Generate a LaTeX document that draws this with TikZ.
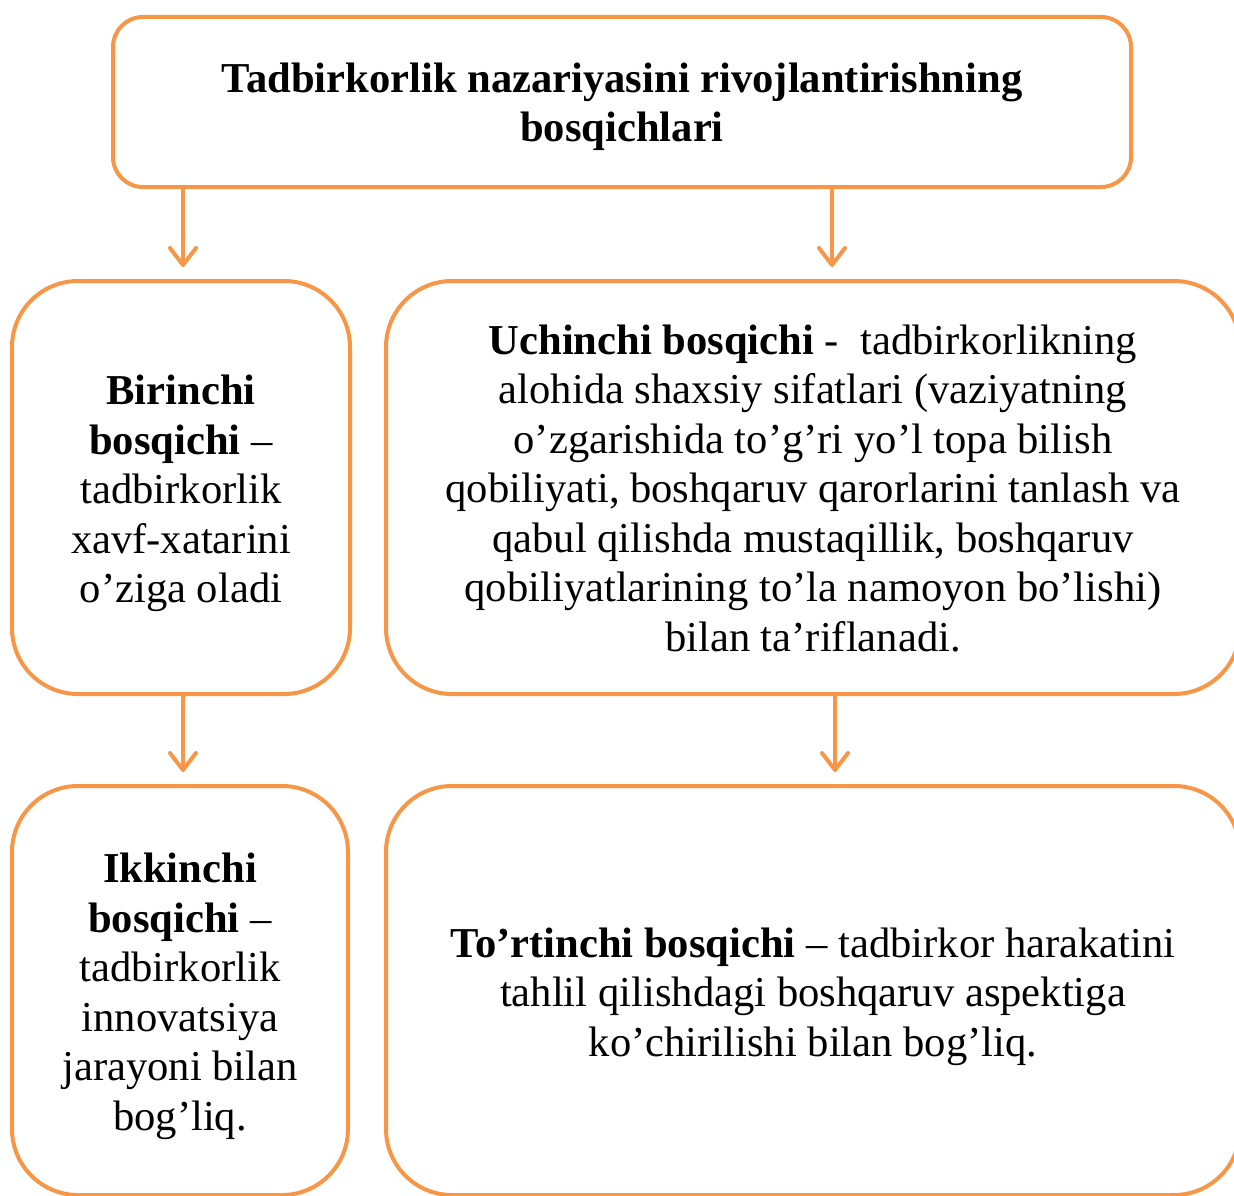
\documentclass[tikz,border=0pt]{standalone}
\usepackage{fontspec}
\setmainfont{Liberation Serif}
\usetikzlibrary{arrows.meta}
\definecolor{stageorange}{HTML}{F79646}
\begin{document}
\begin{tikzpicture}[x=1pt,y=-1pt,
  stagebox/.style={draw=stageorange, line width=4pt, rounded corners=#1,
    inner sep=0pt},
  stagebox/.default=66pt,
  stagetext/.style={inner sep=0pt, align=center, font=\fontsize{42.6}{49.5}\selectfont},
  flow/.style={draw=stageorange, line width=4pt, line cap=round,
    -{Straight Barb[length=17pt,width=26pt,line cap=round,line join=round]},
    shorten >=12pt}
]
% page frame; the wide boxes run past the right and bottom edges
\clip (0,0) rectangle (1234,1196);

% frames
\node[stagebox=30pt, minimum width=1018pt, minimum height=170pt] (top) at (622,102) {};
\node[stagebox, minimum width=338pt, minimum height=413pt] (s1) at (181,487.5) {};
\node[stagebox, minimum width=854pt, minimum height=413pt] (s3) at (813,487.5) {};
\node[stagebox, minimum width=336pt, minimum height=409pt] (s2) at (180,990.5) {};
\node[stagebox, minimum width=854pt, minimum height=409pt] (s4) at (813,990.5) {};

% texts
\node[stagetext, font=\fontsize{42.6}{49.5}\selectfont\bfseries] (toptext) at ([yshift=-5pt]top.center)
  {Tadbirkorlik nazariyasini rivojlantirishning\\bosqichlari};
\node[stagetext] (s1text) at ([yshift=-6pt]s1.center)
  {\textbf{Birinchi}\\\textbf{bosqichi} –\\tadbirkorlik\\xavf-xatarini\\o’ziga oladi};
\node[stagetext] (s3text) at ([yshift=-1pt]s3.center)
  {\textbf{Uchinchi bosqichi} -~~tadbirkorlikning\\
   alohida shaxsiy sifatlari (vaziyatning\\
   o’zgarishida to’g’ri yo’l topa bilish\\
   qobiliyati, boshqaruv qarorlarini tanlash va\\
   qabul qilishda mustaqillik, boshqaruv\\
   qobiliyatlarining to’la namoyon bo’lishi)\\
   bilan ta’riflanadi.};
\node[stagetext] (s2text) at ([yshift=-6pt]s2.center)
  {\textbf{Ikkinchi}\\\textbf{bosqichi} –\\tadbirkorlik\\innovatsiya\\jarayoni bilan\\bog’liq.};
\node[stagetext] (s4text) at ([yshift=-6pt]s4.center)
  {\textbf{To’rtinchi bosqichi} – tadbirkor harakatini\\
   tahlil qilishdagi boshqaruv aspektiga\\
   ko’chirilishi bilan bog’liq.};

% arrow columns
\coordinate (cl) at (183,0);
\coordinate (cr1) at (832,0);
\coordinate (cr2) at (835,0);

% connectors
\draw[flow] (top.south -| cl) -- (s1.north -| cl);
\draw[flow] (top.south -| cr1) -- (s3.north -| cr1);
\draw[flow] (s1.south -| cl) -- (s2.north -| cl);
\draw[flow] (s3.south -| cr2) -- (s4.north -| cr2);
\end{tikzpicture}
\end{document}
